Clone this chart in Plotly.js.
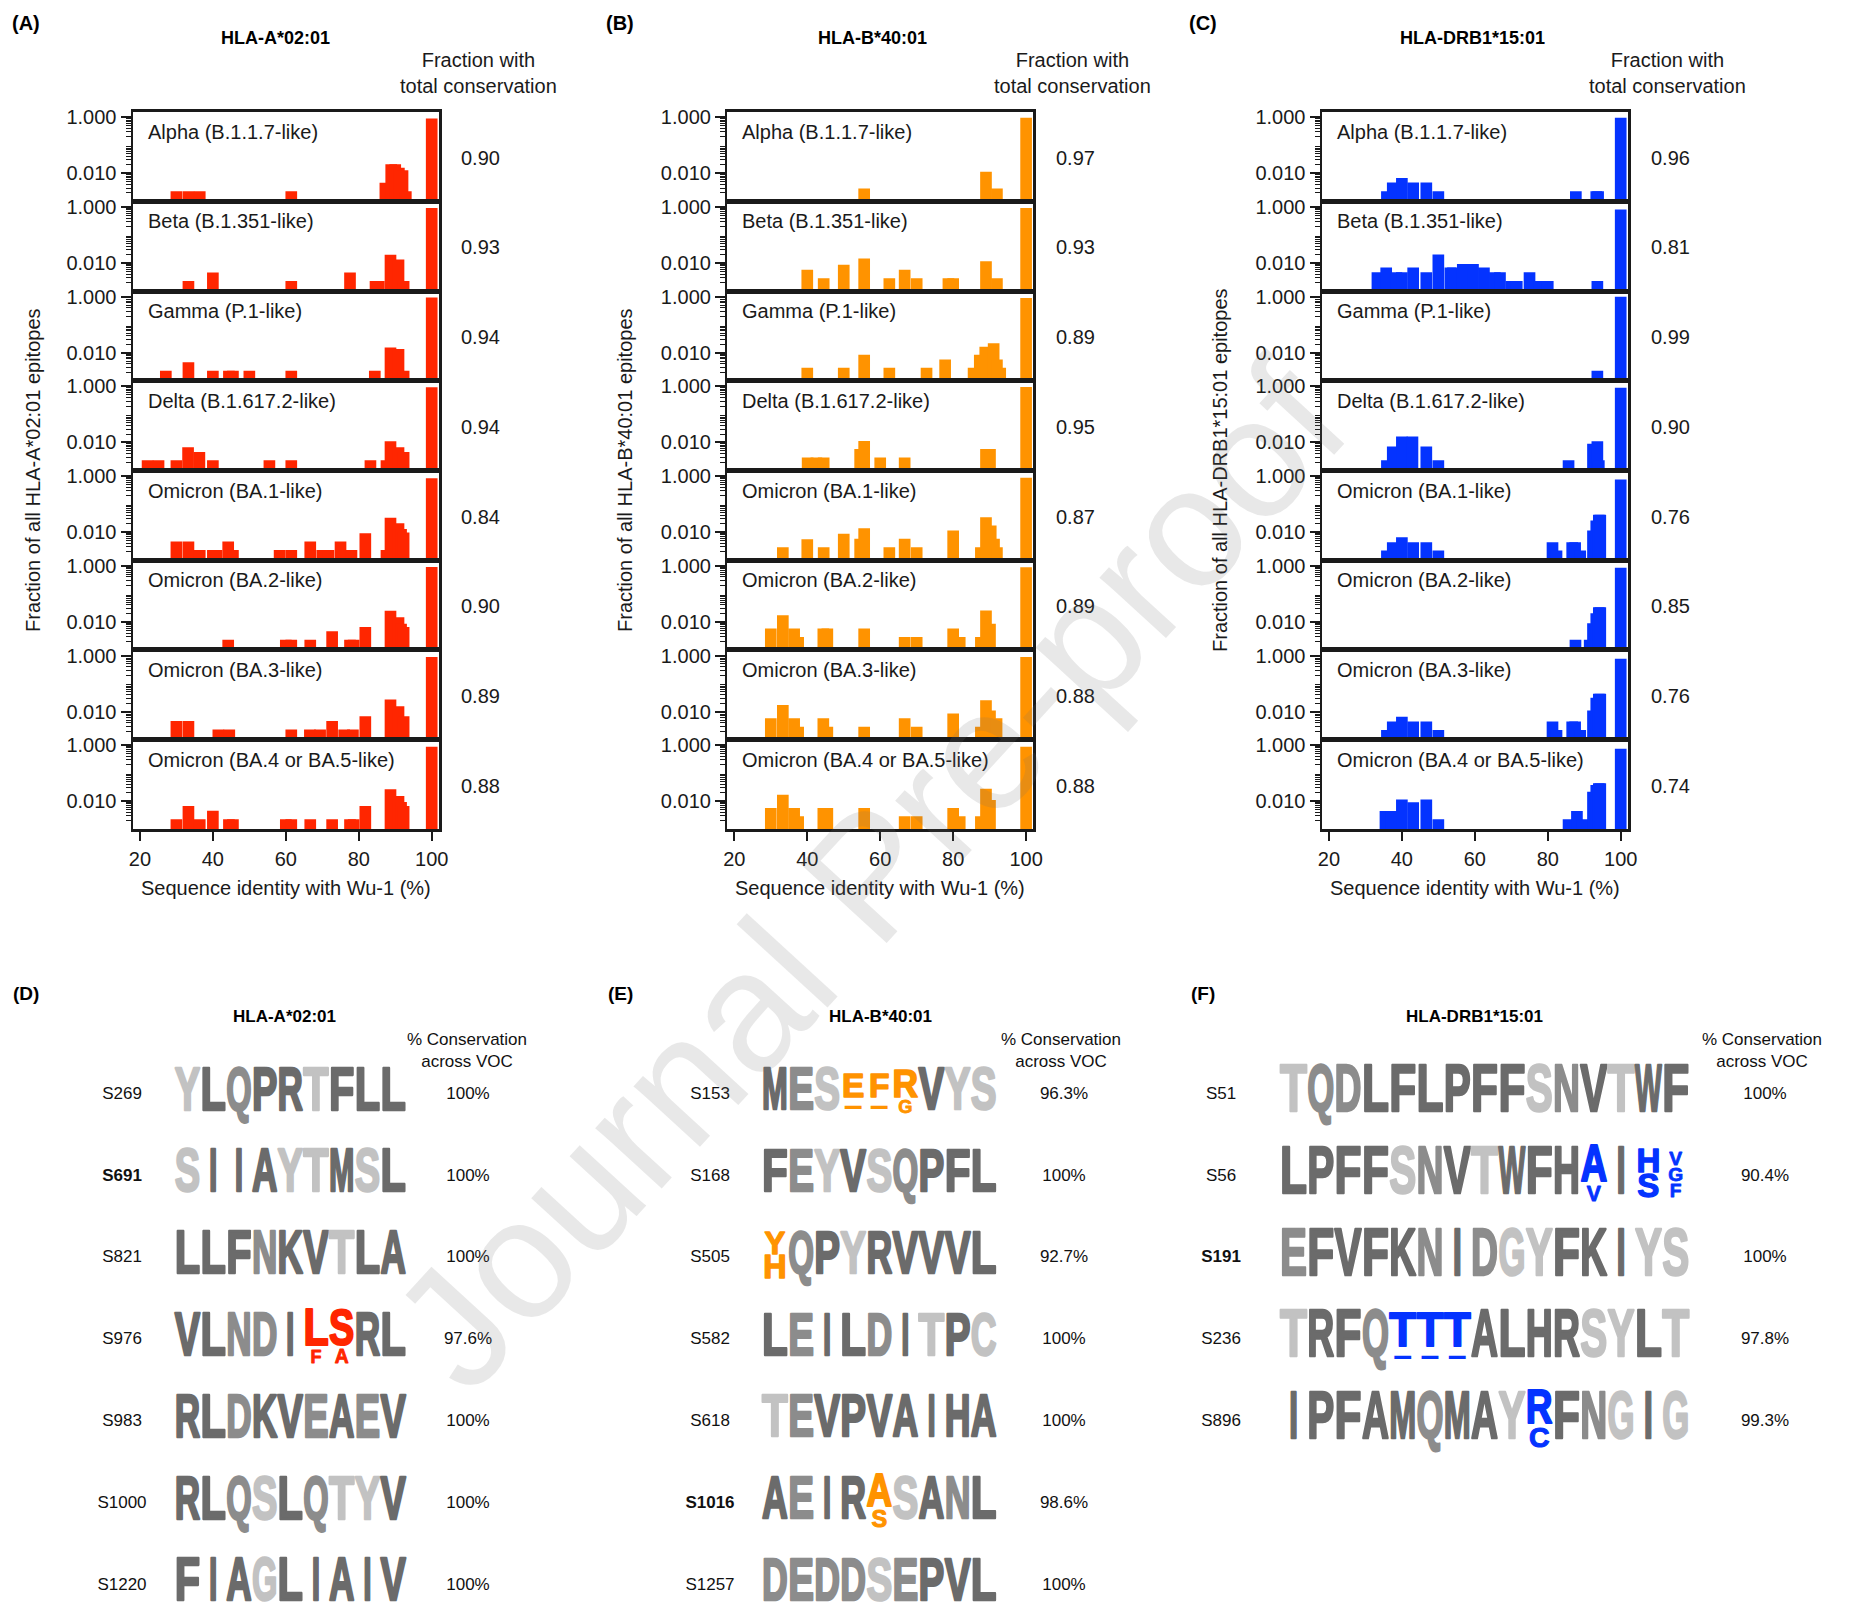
<!DOCTYPE html>
<html><head><meta charset="utf-8">
<script src="https://cdn.plot.ly/plotly-3.0.1.min.js"></script>
<style>html,body{margin:0;padding:0;background:#fff}</style>
</head><body><div id="chart" style="width:1853px;height:1619px"></div>
<script>
// ================= DATA =================
const variantNames = ["Alpha (B.1.1.7-like)","Beta (B.1.351-like)","Gamma (P.1-like)","Delta (B.1.617.2-like)",
  "Omicron (BA.1-like)","Omicron (BA.2-like)","Omicron (BA.3-like)","Omicron (BA.4 or BA.5-like)"];
const alleleNames = ["HLA-A*02:01","HLA-B*40:01","HLA-DRB1*15:01"];
const panelTags = ["(A)","(B)","(C)","(D)","(E)","(F)"];
const xTickVals = [20,40,60,80,100];
const yTickVals = [0.01,1];
const yTickText = ["0.010","1.000"];
const totalIdentity = 100;

// fraction of epitopes with total conservation (bar at 100 %)
const consA = [0.90,0.93,0.94,0.94,0.84,0.90,0.89,0.88];
const consB = [0.97,0.93,0.89,0.95,0.87,0.89,0.88,0.88];
const consC = [0.96,0.81,0.99,0.90,0.76,0.85,0.76,0.74];

// identity (%) and fraction for the other epitopes, per variant
const identA = [
 [30,33.3,36.4,61.5,87.3,88.9,90,91,92,92.9],
 [33.3,40,61.5,77.6,84.6,85.5,88.7,90.9,92.3],
 [27.1,33.3,40,44.4,45.5,50,61.5,84.4,88.7,90.9,92.3],
 [22.1,25.1,30,33.2,36.3,40,55.5,61.5,83.2,87.6,88.7,90.9,92.3],
 [30,33.3,36.4,40,41,44.2,45.5,58.3,61.5,66.7,70,71.7,75,78,81.8,87.6,88.7,90.9,91.6,92.3],
 [44.2,60,61.5,66.7,72.7,77.6,78.6,81.8,88.7,90.9,91.6,92.3],
 [30,33.3,41.5,44.5,61.5,66.6,69.4,72.7,76,78.4,81.8,88.7,90.9,92.3],
 [30,33.3,36.4,40,44.4,45.5,60,61.5,66.7,72.7,77.6,78.6,81.8,88.7,90.9,91.6,92.3]
];
const fracA = [
 [0.0023,0.0023,0.0023,0.0023,0.0046,0.021,0.021,0.016,0.013,0.0023],
 [0.0023,0.0046,0.0023,0.0046,0.0023,0.0023,0.020,0.0135,0.0023],
 [0.0023,0.0046,0.0023,0.0023,0.0023,0.0023,0.0023,0.0023,0.0155,0.0135,0.0023],
 [0.0023,0.0023,0.0023,0.0068,0.0046,0.0023,0.0023,0.0023,0.0023,0.0023,0.011,0.0068,0.0046],
 [0.0046,0.0046,0.0023,0.0023,0.0023,0.0046,0.0023,0.0023,0.0023,0.0046,0.0023,0.0023,0.0046,0.0023,0.0092,0.0023,0.033,0.021,0.013,0.0098],
 [0.0023,0.0023,0.0023,0.0023,0.0046,0.0023,0.0023,0.0065,0.025,0.0147,0.0085,0.0065],
 [0.0046,0.0046,0.0023,0.0023,0.0023,0.0023,0.0023,0.0046,0.0023,0.0023,0.0068,0.027,0.0155,0.0068],
 [0.0023,0.0068,0.0023,0.0046,0.0023,0.0023,0.0023,0.0023,0.0023,0.0023,0.0023,0.0023,0.0068,0.027,0.0155,0.0095,0.0068]
];
const identB = [
 [55.6,89,92],
 [40,44.5,50,55.6,62.5,66.7,70,78.7,80,89,92],
 [40,50,55.6,62.5,72.7,77.8,85.6,87.3,88.8,91.1,92.0,92.9],
 [40.1,42.5,44.5,54.5,55.6,60,66.7,89,90.1],
 [33.3,40,44.5,50,54.5,55.6,62.5,66.7,70,80,87.6,89,90.3,91.2,92],
 [30,33.3,36.4,37.5,44.4,45.5,55.6,66.7,70,80,81.8,87.6,89,90.1],
 [30,33.3,36.4,37.5,44.4,45.5,55.6,66.7,70,80,87.6,89,90.1,91.9],
 [30,33.3,36.4,37.5,44.4,45.5,55.6,66.7,70,80,81.8,87.6,89,90.1]
];
const fracB = [
 [0.0029,0.0115,0.0029],
 [0.0058,0.0029,0.0087,0.0147,0.0029,0.0058,0.0029,0.0029,0.0029,0.0115,0.0029],
 [0.0029,0.0029,0.0085,0.0029,0.0029,0.0058,0.0029,0.0085,0.0163,0.022,0.0058,0.0029],
 [0.0029,0.0029,0.0029,0.0058,0.0112,0.0029,0.0029,0.0058,0.0058],
 [0.0029,0.0056,0.0029,0.0087,0.0058,0.0139,0.0029,0.0058,0.0029,0.0115,0.0029,0.034,0.0173,0.0058,0.0029],
 [0.0058,0.0173,0.0058,0.0029,0.0058,0.0058,0.0058,0.0029,0.0029,0.0058,0.0029,0.0029,0.0254,0.0085],
 [0.0058,0.017,0.0058,0.0029,0.0058,0.0029,0.0029,0.0058,0.0029,0.0085,0.0029,0.0254,0.011,0.0058],
 [0.0058,0.017,0.0058,0.0029,0.0058,0.0058,0.0058,0.0029,0.0029,0.0058,0.0029,0.0029,0.028,0.011]
];
const identC = [
 [35.9,37.5,40,43.1,46.7,50,87.7,93.3,93.8],
 [33.3,35.7,38.5,40,43.1,46.7,50,53.3,54,56.7,59.5,62.5,65.5,66.9,70,71.5,75,77.8,80,93.6],
 [93.6],
 [35.9,37.5,40,42.9,46.7,50,85.7,92.4,93.6,94.0],
 [35.9,37.5,40,43.1,46.7,50,81.3,82.4,86.7,87.5,88.9,92.4,93.3,94.0,94.4],
 [87.6,91.5,92.4,93.3,94.0,94.4],
 [35.9,37.5,40,43.1,46.7,50,81.3,82.4,86.7,87.5,88.9,92.4,93.3,94.0,94.4],
 [35.5,37.1,40,43.1,46.7,50,85.7,88.0,89.5,92.4,93.3,94.0,94.4]
];
const fracC = [
 [0.0023,0.0047,0.0068,0.0047,0.0047,0.0023,0.0023,0.0023,0.0023],
 [0.0047,0.007,0.0047,0.0047,0.007,0.0047,0.0204,0.007,0.007,0.0092,0.0092,0.007,0.0047,0.0047,0.0023,0.0023,0.0047,0.0023,0.0023,0.0023],
 [0.0023],
 [0.0023,0.0072,0.0163,0.0163,0.0072,0.0023,0.0023,0.009,0.011,0.0023],
 [0.0022,0.0044,0.0066,0.0044,0.0044,0.0022,0.0044,0.0022,0.0044,0.0044,0.0022,0.0115,0.026,0.0415,0.0415],
 [0.0023,0.0023,0.009,0.0204,0.033,0.033],
 [0.0022,0.0044,0.0066,0.0044,0.0044,0.0022,0.0044,0.0022,0.0044,0.0044,0.0022,0.011,0.031,0.043,0.043],
 [0.0045,0.0045,0.0115,0.0092,0.0115,0.0023,0.0023,0.0045,0.0023,0.022,0.038,0.044,0.044]
];

// sequence logos
const idsD = ["S269","S691","S821","S976","S983","S1000","S1220"];
const seqD = ["YLQPRTFLL","SIIAYTMSL","LLFNKVTLA","VLNDILSRL","RLDKVEAEV","RLQSLQTYV","FIAGLIAIV"];
const pctD = ["100%","100%","100%","97.6%","100%","100%","100%"];
const boldD = ["S691"];
// [epitope, position, residues top->bottom, relative heights]
const stackD = [["S976",5,["L","F"],[0.86,0.30]],["S976",6,["S","A"],[0.84,0.32]]];

const idsE = ["S153","S168","S505","S582","S618","S1016","S1257"];
const seqE = ["MESEFRVYS","FEYVSQPFL","YQPYRVVVL","LEILDITPC","TEVPVAIHA","AEIRASANL","DEDDSEPVL"];
const pctE = ["96.3%","100%","92.7%","100%","100%","98.6%","100%"];
const boldE = ["S1016"];
const stackE = [["S153",3,["E","–"],[0.57,0.25]],["S153",4,["F","–"],[0.57,0.25]],["S153",5,["R","G"],[0.66,0.31]],
  ["S505",0,["Y","H"],[0.53,0.55]],["S1016",4,["A","S"],[0.8,0.4]]];

const idsF = ["S51","S56","S191","S236","S896"];
const seqF = ["TQDLFLPFFSNVTWF","LPFFSNVTWFHAIHV","EFVFKNIDGYFKIYS","TRFQTTTALHRSYLT","IPFAMQMAYRFNGIG"];
const pctF = ["100%","90.4%","100%","97.8%","99.3%"];
const boldF = ["S191"];
const stackF = [["S56",11,["A","V"],[0.79,0.32]],["S56",13,["H","S"],[0.5,0.5]],["S56",14,["V","G","F"],[0.29,0.29,0.29]],
  ["S236",4,["T","–"],[0.74,0.2]],["S236",5,["T","–"],[0.74,0.2]],["S236",6,["T","–"],[0.74,0.2]],
  ["S896",9,["R","C"],[0.74,0.43]]];

// ================= DRAWING =================
const W = 1853, H = 1619;
const PX = x => x / W, PY = y => 1 - y / H;
const FONT = "'Liberation Sans', Arial, Helvetica, sans-serif";
const LOGOFONT = "'Liberation Sans', 'Helvetica Neue', Arial, sans-serif";
const INK = '#1a1a1a';
const panelColors = ['#FF2600','#FF9300','#0433FF'];
const colLeft = [133, 727.4, 1322], colW = 306;
const rowTop0 = 111.7, rowH = 89.7, nRows = 8;
const identSets = [identA, identB, identC], fracSets = [fracA, fracB, fracC], consSets = [consA, consB, consC];

const minorVals = [];
for (let d = -3; d <= 0; d++) for (let m = 2; m <= 9; m++) { const v = m * Math.pow(10, d); if (v < 1.55) minorVals.push(v); }

const data = [];
const ann = [];
const layout = {
  width: W, height: H, autosize: false,
  margin: {l:0, r:0, t:0, b:0},
  paper_bgcolor: '#ffffff', plot_bgcolor: 'rgba(0,0,0,0)',
  showlegend: false, barmode: 'overlay',
  font: {family: FONT, color: INK, size: 20},
  annotations: ann
};
function A(o){ ann.push(Object.assign({showarrow:false, xref:'paper', yref:'paper', font:{family:FONT, size:20, color:INK}}, o)); }

let k = 0;
for (let c = 0; c < 3; c++) {
  for (let r = 0; r < nRows; r++) {
    k++;
    const id = k === 1 ? '' : String(k);
    const top = rowTop0 + r * rowH, bot = top + rowH, last = r === nRows - 1;
    layout['xaxis' + id] = {
      domain: [PX(colLeft[c]), PX(colLeft[c] + colW)], anchor: 'y' + id,
      range: [18.1, 102], showline: true, mirror: true, linecolor: INK, linewidth: 2.5,
      showgrid: false, zeroline: false, fixedrange: true,
      tickmode: 'array', tickvals: xTickVals,
      ticks: last ? 'outside' : '', ticklen: 9, tickwidth: 2, tickcolor: INK,
      showticklabels: last, ticklabelstandoff: 1,
      tickfont: {family: FONT, size: 20, color: INK}
    };
    layout['yaxis' + id] = {
      domain: [PY(bot), PY(top)], anchor: 'x' + id, type: 'log', range: [-3, 0.2],
      showline: true, mirror: true, linecolor: INK, linewidth: 2.5,
      showgrid: false, zeroline: false, fixedrange: true,
      tickmode: 'array', tickvals: yTickVals, ticktext: yTickText,
      ticks: 'outside', ticklen: 10, tickwidth: 2, tickcolor: INK,
      minor: {tickmode: 'array', tickvals: minorVals, ticks: 'outside', ticklen: 5, tickwidth: 1, tickcolor: INK, showgrid: false},
      tickfont: {family: FONT, size: 20, color: INK}
    };
    data.push({
      type: 'bar', x: identSets[c][r].concat([totalIdentity]), y: fracSets[c][r].concat([consSets[c][r]]),
      xaxis: 'x' + id, yaxis: 'y' + id, width: 3.2,
      marker: {color: panelColors[c], line: {width: 0}}, hoverinfo: 'skip'
    });
    A({text: variantNames[r], x: PX(colLeft[c] + 13), y: PY(top + 20), xanchor: 'left', yanchor: 'middle'});
    A({text: consSets[c][r].toFixed(2), x: PX(colLeft[c] + colW + 42), y: PY(top + 46), xanchor: 'center', yanchor: 'middle'});
  }
  const cx = colLeft[c] + colW / 2;
  A({text: 'Sequence identity with Wu-1 (%)', x: PX(cx), y: PY(888), xanchor: 'center', yanchor: 'middle'});
  A({text: 'Fraction of all ' + alleleNames[c] + ' epitopes', x: PX([33, 625, 1220][c]), y: PY(470), textangle: -90, xanchor: 'center', yanchor: 'middle'});
  A({text: '<b>' + alleleNames[c] + '</b>', x: PX([275, 872, 1472][c]), y: PY(38), xanchor: 'center', yanchor: 'middle', font: {family: FONT, size: 18, color: '#000'}});
  A({text: 'Fraction with<br>total conservation', x: PX(colLeft[c] + colW + 39), y: PY(73), xanchor: 'center', yanchor: 'middle'});
  A({text: '<b>' + panelTags[c] + '</b>', x: PX([26, 620, 1203][c]), y: PY(23), xanchor: 'center', yanchor: 'middle', font: {family: FONT, size: 20, color: '#000'}});
}

// ---------- sequence logos ----------
const ROWPITCH = 81.8, CAPRATIO = 0.68, DASHSIZE = 34, STACKGAP = 0.06, STROKE = 2.6;
const darkAA = "LIVAMFWPRKH", midAA = "NQDE";
function shade(ch){ return darkAA.indexOf(ch) >= 0 ? '#6b6b6b' : (midAA.indexOf(ch) >= 0 ? '#8c8c8c' : '#c2c2c2'); }

const logoGeo = [
  {c0: 187.5, pitch: 25.7, cap: 41, dom: [90, 540], idX: 122, pctX: 468, tagX: 26, titleX: 284, headX: 467},
  {c0: 775, pitch: 26.08, cap: 40, dom: [680, 1160], idX: 710, pctX: 1064, tagX: 620, titleX: 880, headX: 1061},
  {c0: 1293.5, pitch: 27.3, cap: 45, dom: [1190, 1853], idX: 1221, pctX: 1765, tagX: 1203, titleX: 1474, headX: 1762}
];
const logoRow0 = 1094.5, logoTop = 1012, logoBot = 1619;
const logoIds = [idsD, idsE, idsF], logoSeqs = [seqD, seqE, seqF], logoPct = [pctD, pctE, pctF];
const logoBold = [boldD, boldE, boldF], logoStacks = [stackD, stackE, stackF];

for (let p = 0; p < 3; p++) {
  const g = logoGeo[p];
  const id = String(25 + p);
  const toX = v => (v - g.c0) / g.pitch;
  const CAP = g.cap;
  layout['xaxis' + id] = {domain: [PX(g.dom[0]), PX(g.dom[1])], range: [toX(g.dom[0]), toX(g.dom[1])], anchor: 'y' + id,
    visible: false, fixedrange: true};
  layout['yaxis' + id] = {domain: [PY(logoBot), PY(logoTop)], range: [(logoBot - logoRow0) / ROWPITCH, (logoTop - logoRow0) / ROWPITCH],
    anchor: 'x' + id, visible: false, fixedrange: true};
  const lx = [], ly = [], lt = [], lc = [], ls = [];
  logoSeqs[p].forEach((s, row) => {
    for (let i = 0; i < s.length; i++) {
      const st = logoStacks[p].find(q => q[0] === logoIds[p][row] && q[1] === i);
      if (st) {
        const hs = st[3];
        const tot = hs.reduce((a, b) => a + b, 0) + STACKGAP * (hs.length - 1);
        let cum = -tot / 2;
        st[2].forEach((ch, j) => {
          const offPx = (cum + hs[j] / 2) * CAP;
          lx.push(i); ly.push(row + offPx / ROWPITCH); lt.push(ch); lc.push(panelColors[p]);
          ls.push(ch === '–' ? DASHSIZE : hs[j] * CAP / CAPRATIO);
          cum += hs[j] + STACKGAP;
        });
      } else {
        lx.push(i); ly.push(row); lt.push(s[i]); lc.push(shade(s[i])); ls.push(CAP / CAPRATIO);
      }
    }
  });
  data.push({type: 'scatter', mode: 'text', x: lx, y: ly, text: lt, textposition: 'middle center',
    textfont: {family: LOGOFONT, size: ls, color: lc, weight: 'bold'},
    xaxis: 'x' + id, yaxis: 'y' + id, cliponaxis: false, hoverinfo: 'skip'});
  const rows = logoIds[p].map((_, i) => i);
  data.push({type: 'scatter', mode: 'text', x: rows.map(() => toX(g.idX)), y: rows,
    text: logoIds[p].map(s => logoBold[p].indexOf(s) >= 0 ? '<b>' + s + '</b>' : s), textposition: 'middle center',
    textfont: {family: FONT, size: 17, color: '#111'}, xaxis: 'x' + id, yaxis: 'y' + id, cliponaxis: false, hoverinfo: 'skip'});
  data.push({type: 'scatter', mode: 'text', x: rows.map(() => toX(g.pctX)), y: rows, text: logoPct[p], textposition: 'middle center',
    textfont: {family: FONT, size: 17, color: '#111'}, xaxis: 'x' + id, yaxis: 'y' + id, cliponaxis: false, hoverinfo: 'skip'});
  A({text: '<b>' + panelTags[3 + p] + '</b>', x: PX(g.tagX), y: PY(993), xanchor: 'center', yanchor: 'middle', font: {family: FONT, size: 19, color: '#000'}});
  A({text: '<b>' + alleleNames[p] + '</b>', x: PX(g.titleX), y: PY(1016), xanchor: 'center', yanchor: 'middle', font: {family: FONT, size: 17, color: '#000'}});
  A({text: '% Conservation<br>across VOC', x: PX(g.headX), y: PY(1050), xanchor: 'center', yanchor: 'middle', font: {family: FONT, size: 17, color: '#111'}});
}

// watermark
A({text: 'Journal Pre-proof', x: PX(869), y: PY(875), xanchor: 'center', yanchor: 'middle', textangle: -47.5,
   font: {family: FONT, size: 170, color: 'rgba(110,110,110,0.16)'}});

Plotly.newPlot('chart', data, layout, {staticPlot: true, displayModeBar: false}).then(gd => {
  // logo letters are condensed (and outlined for weight) to fill one column each, as in a sequence logo
  const fullSizes = logoGeo.map(g => g.cap / CAPRATIO);
  gd.querySelectorAll('g.textpoint text').forEach(t => {
    const fam = t.style.fontFamily || '';
    if (fam.indexOf('Helvetica Neue') < 0) return;
    const bb = t.getBBox();
    if (!bb.width) return;
    const rect = t.getBoundingClientRect();
    const cxPage = rect.left + rect.width / 2;
    const p = cxPage < 600 ? 0 : (cxPage < 1180 ? 1 : 2);
    const pitch = logoGeo[p].pitch;
    const fs = parseFloat(t.style.fontSize);
    const ch = t.textContent;
    const full = Math.abs(fs - fullSizes[p]) < 0.5;
    let target;
    if (ch === 'I') target = 0.5 * bb.width;
    else if (full) target = pitch - 0.3;
    else target = Math.min(bb.width, pitch - 0.5);
    const sx = target / bb.width;
    const x = parseFloat(t.getAttribute('x'));
    t.setAttribute('transform', 'matrix(' + sx + ',0,0,1,' + (x * (1 - sx)) + ',0)');
    if (ch !== '–') {
      t.style.stroke = t.style.fill;
      t.style.strokeWidth = Math.max(0.8, STROKE * fs / fullSizes[p]) + 'px';
      t.style.strokeLinejoin = 'round';
    }
  });
});
</script>
</body></html>
